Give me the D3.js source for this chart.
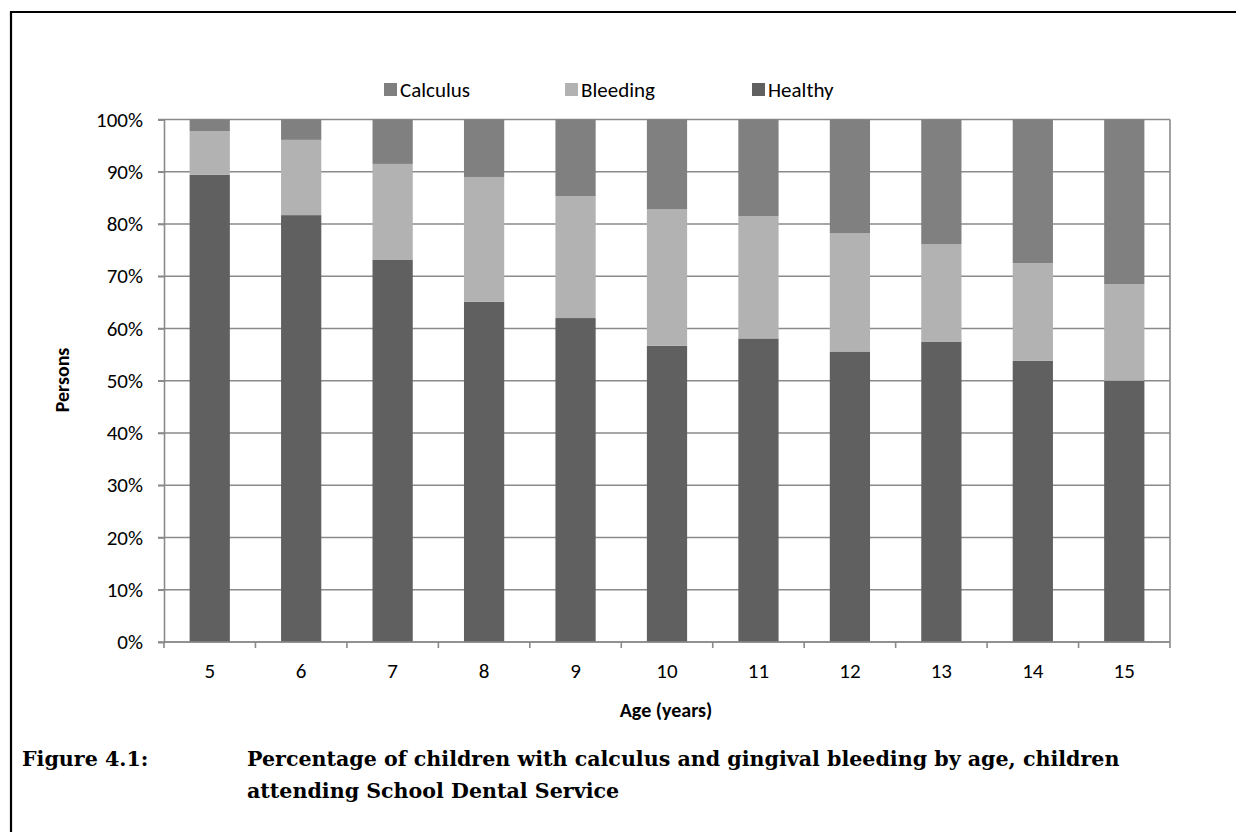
<!DOCTYPE html>
<html>
<head>
<meta charset="utf-8">
<script src="https://cdn.jsdelivr.net/npm/d3@7"></script>
<style>
  html, body { margin: 0; padding: 0; background: #fff; }
  svg { display: block; }
</style>
</head>
<body>
<svg id="chart" width="1236" height="832"></svg>
<script>
const ages = ["5", "6", "7", "8", "9", "10", "11", "12", "13", "14", "15"];
const healthy  = [89.4, 81.7, 73.2, 65.1, 62.0, 56.7, 58.1, 55.6, 57.5, 53.8, 50.0];
const bleeding = [8.4, 14.4, 18.3, 23.9, 23.3, 26.1, 23.4, 22.6, 18.6, 18.7, 18.5];
const calculus = [2.2, 3.9, 8.5, 11.0, 14.7, 17.2, 18.5, 21.8, 23.9, 27.5, 31.5];
const seriesNames = ["Healthy", "Bleeding", "Calculus"];
const legendOrder = ["Calculus", "Bleeding", "Healthy"];
const yTicks = [0, 10, 20, 30, 40, 50, 60, 70, 80, 90, 100];
const colors = { Healthy: "#606060", Bleeding: "#b2b2b2", Calculus: "#808080" };

const svg = d3.select("#chart");
const W = 1236, H = 832;
const axisFont = "Carlito, Lato, 'Liberation Sans', sans-serif";
const tickSize = 21;

// outer frame (left + top)
svg.append("path")
  .attr("d", `M11,${H} L11,12 L${W},12`)
  .attr("fill", "none").attr("stroke", "#000").attr("stroke-width", 2.2);

const plot = { left: 164, right: 1170, top: 119.5, bottom: 642 };

const x = d3.scaleBand().domain(ages).range([plot.left, plot.right]).paddingInner(0.56).paddingOuter(0.28);
const xOuter = d3.scaleBand().domain(ages).range([plot.left, plot.right]);
const y = d3.scaleLinear().domain([0, 100]).range([plot.bottom, plot.top]);

const table = ages.map((a, i) => ({ age: a, Healthy: healthy[i], Bleeding: bleeding[i], Calculus: calculus[i] }));
const stacked = d3.stack().keys(seriesNames)(table);

// gridlines
const g = svg.append("g");
g.selectAll("line.grid").data(yTicks).join("line")
  .attr("x1", plot.left - 6).attr("x2", plot.right)
  .attr("y1", d => y(d)).attr("y2", d => y(d))
  .attr("stroke", "#8a8a8a").attr("stroke-width", 1.6);

g.append("line").attr("x1", plot.right).attr("x2", plot.right)
  .attr("y1", plot.top).attr("y2", plot.bottom)
  .attr("stroke", "#8a8a8a").attr("stroke-width", 1.6);

// bars
svg.append("g").selectAll("g").data(stacked).join("g")
  .attr("fill", d => colors[d.key])
  .selectAll("rect").data(d => d).join("rect")
  .attr("x", d => x(d.data.age))
  .attr("width", x.bandwidth())
  .attr("y", d => y(Math.min(100, d[1])))
  .attr("height", d => y(d[0]) - y(Math.min(100, d[1])));

// y axis
const yAxis = d3.axisLeft(y).tickValues(yTicks).tickFormat(d => d + "%").tickSize(6).tickPadding(15);
const ya = svg.append("g").attr("transform", `translate(${plot.left},0)`).call(yAxis);
ya.attr("font-size", null).attr("font-family", null);
ya.select(".domain").attr("stroke", "#8a8a8a").attr("stroke-width", 1.6);
ya.selectAll(".tick line").attr("stroke", "#8a8a8a").attr("stroke-width", 1.6);
ya.selectAll("text").attr("font-family", axisFont).attr("font-size", tickSize).attr("fill", "#000");

// x axis
const xa = svg.append("g").attr("transform", `translate(0,${plot.bottom})`);
xa.append("line").attr("x1", plot.left).attr("x2", plot.right).attr("stroke", "#8a8a8a").attr("stroke-width", 1.6);
const bounds = ages.map(a => xOuter(a)).concat([plot.right]);
xa.selectAll("line.tk").data(bounds).join("line")
  .attr("x1", d => d).attr("x2", d => d).attr("y1", 0).attr("y2", 6)
  .attr("stroke", "#8a8a8a").attr("stroke-width", 1.6);
xa.selectAll("text").data(ages).join("text")
  .attr("x", d => xOuter(d) + xOuter.bandwidth() / 2)
  .attr("y", 36)
  .attr("text-anchor", "middle")
  .attr("font-family", axisFont).attr("font-size", tickSize).attr("fill", "#000")
  .text(d => d);

// axis titles
svg.append("text")
  .attr("transform", `translate(69,380) rotate(-90)`)
  .attr("text-anchor", "middle")
  .attr("font-family", axisFont).attr("font-size", 20).attr("font-weight", "bold")
  .text("Persons");
svg.append("text")
  .attr("x", 666).attr("y", 717)
  .attr("text-anchor", "middle")
  .attr("font-family", axisFont).attr("font-size", 20).attr("font-weight", "bold")
  .text("Age (years)");

// legend
const legendX = { Calculus: 384, Bleeding: 565, Healthy: 752 };
const lg = svg.append("g");
legendOrder.forEach(k => {
  lg.append("rect").attr("x", legendX[k]).attr("y", 83).attr("width", 13).attr("height", 13).attr("fill", colors[k]);
  lg.append("text").attr("x", legendX[k] + 16).attr("y", 97)
    .attr("font-family", axisFont).attr("font-size", tickSize).attr("fill", "#000").text(k);
});

// caption
const capFont = "'DejaVu Serif', 'Liberation Serif', serif";
const cap = svg.append("g").attr("font-family", capFont).attr("font-weight", "bold").attr("font-size", 20);
cap.append("text").attr("x", 22).attr("y", 766).text("Figure 4.1:");
const l1 = cap.append("text").attr("x", 247).attr("y", 766)
  .text("Percentage of children with calculus and gingival bleeding by age, children");
cap.append("text").attr("x", 247).attr("y", 798).text("attending School Dental Service");
const w1 = l1.node().getComputedTextLength();
if (w1 > 0) cap.attr("font-size", 20 * 873 / w1);
</script>
</body>
</html>
